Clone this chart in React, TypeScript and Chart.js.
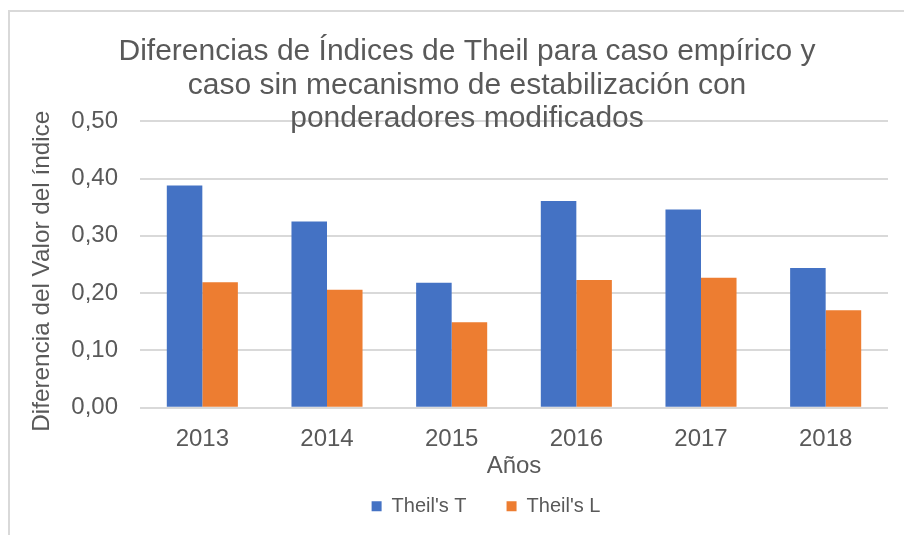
import { useEffect, useRef } from "react";
import { Chart, registerables } from "chart.js";

Chart.register(...registerables);

const categories = ["2013", "2014", "2015", "2016", "2017", "2018"];
const theilT = [0.388, 0.325, 0.218, 0.361, 0.346, 0.244];
const theilL = [0.219, 0.206, 0.149, 0.223, 0.227, 0.17];
const seriesNames = ["Theil's T", "Theil's L"];
const titleLines = [
  "Diferencias de Índices de Theil para caso empírico y",
  "caso sin mecanismo de estabilización con",
  "ponderadores modificados",
];
const yTitle = "Diferencia del Valor del índice  ";
const xTitle = "Años";

const FONT = "'Liberation Sans', Arial, sans-serif";
const TEXT = "#595959";
const GRID = "#d9d9d9";

const framePlugin = {
  id: "frame",
  afterLayout(chart: any) {
    const lg = chart.legend;
    if (lg) {
      lg.left += 38;
      lg.right += 38;
    }
  },
  beforeDraw(chart: any) {
    const ctx = chart.ctx;
    ctx.save();
    ctx.fillStyle = "#ffffff";
    ctx.fillRect(0, 0, chart.width, chart.height);
    ctx.strokeStyle = GRID;
    ctx.lineWidth = 2;
    ctx.beginPath();
    ctx.moveTo(9, chart.height);
    ctx.lineTo(9, 11);
    ctx.lineTo(chart.width, 11);
    ctx.stroke();
    ctx.restore();
  },
  afterDraw(chart: any) {
    const ctx = chart.ctx;
    ctx.save();
    ctx.fillStyle = TEXT;
    ctx.font = `30px ${FONT}`;
    ctx.textAlign = "center";
    ctx.textBaseline = "alphabetic";
    titleLines.forEach((line, i) => {
      ctx.fillText(line, 467, 60 + i * 33.7);
    });
    ctx.restore();
  },
};

export default function App() {
  const ref = useRef<HTMLCanvasElement | null>(null);

  useEffect(() => {
    if (!ref.current) return;
    const chart = new Chart(ref.current, {
      type: "bar",
      data: {
        labels: categories,
        datasets: [
          {
            label: seriesNames[0],
            data: theilT,
            backgroundColor: "#4472c4",
            borderWidth: 0,
            categoryPercentage: 0.57,
            barPercentage: 1,
          },
          {
            label: seriesNames[1],
            data: theilL,
            backgroundColor: "#ed7d31",
            borderWidth: 0,
            categoryPercentage: 0.57,
            barPercentage: 1,
          },
        ],
      },
      options: {
        responsive: false,
        animation: false,
        devicePixelRatio: 1,
        layout: { padding: { left: 8, right: 16, top: 121.3, bottom: 8.65 } },
        plugins: {
          title: { display: false },
          tooltip: { enabled: false },
          legend: {
            position: "bottom",
            labels: {
              boxWidth: 10,
              boxHeight: 10,
              padding: 40,
              color: TEXT,
              font: { family: FONT, size: 20 },
            },
          },
        },
        scales: {
          x: {
            grid: { display: false },
            border: { display: false },
            ticks: { color: TEXT, font: { family: FONT, size: 24 }, padding: 9 },
            title: {
              display: true,
              text: xTitle,
              color: TEXT,
              font: { family: FONT, size: 24 },
              padding: { top: 0, bottom: -24.4 },
            },
            afterFit: (s: any) => {
              s.height = 48.65;
            },
          },
          y: {
            min: 0,
            max: 0.5,
            ticks: {
              stepSize: 0.1,
              color: TEXT,
              font: { family: FONT, size: 24 },
              padding: 22,
              callback: (v: any) => Number(v).toFixed(2).replace(".", ","),
            },
            grid: { color: GRID, lineWidth: 2, drawTicks: false },
            border: { display: false },
            title: {
              display: true,
              text: yTitle,
              color: TEXT,
              font: { family: FONT, size: 24.3 },
              padding: { top: 19.5, bottom: 0 },
            },
            afterFit: (s: any) => {
              s.width = 132;
            },
          },
        },
      },
      plugins: [framePlugin],
    });
    return () => chart.destroy();
  }, []);

  return (
    <div style={{ position: "fixed", left: 0, top: 0, width: 904, height: 535, overflow: "hidden", background: "#fff" }}>
      <canvas ref={ref} width={904} height={535} style={{ width: 904, height: 535, display: "block" }} />
    </div>
  );
}
